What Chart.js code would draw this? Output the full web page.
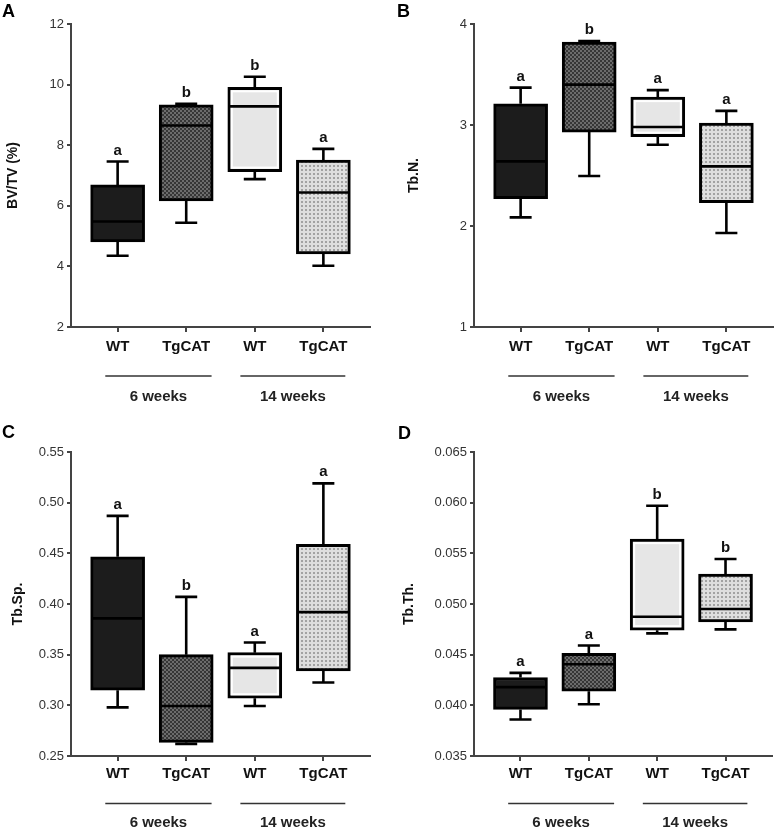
<!DOCTYPE html>
<html><head><meta charset="utf-8">
<script src="https://cdn.jsdelivr.net/npm/chart.js@4.4.0/dist/chart.umd.min.js"></script>
<style>
html,body{margin:0;padding:0;background:#fff;}
#wrap{position:relative;width:777px;height:831px;overflow:hidden;background:#fff;}
.pn{position:absolute;}
.pn canvas{display:block;}
.lt{position:absolute;font:bold 18px "Liberation Sans",Arial,sans-serif;color:#000;line-height:18px;}
</style></head><body>
<div id="wrap">
  <div class="pn" style="left:0;top:0"><canvas id="cA" width="388" height="415"></canvas></div>
  <div class="pn" style="left:388px;top:0"><canvas id="cB" width="389" height="415"></canvas></div>
  <div class="pn" style="left:0;top:415px"><canvas id="cC" width="388" height="416"></canvas></div>
  <div class="pn" style="left:388px;top:415px"><canvas id="cD" width="389" height="416"></canvas></div>
  <div class="lt" style="left:2px;top:2px">A</div>
  <div class="lt" style="left:397px;top:2px">B</div>
  <div class="lt" style="left:2px;top:423px">C</div>
  <div class="lt" style="left:398px;top:424px">D</div>
</div>
<script>
// ---------- data ----------
const categories = ['WT', 'TgCAT', 'WT', 'TgCAT'];
const groups = ['6 weeks', '14 weeks'];

// Panel A: BV/TV (%)
const bvtvLow    = [4.35, 5.44, 6.88, 4.02];
const bvtvQ1     = [4.81, 6.16, 7.13, 4.41];
const bvtvMedian = [5.48, 8.65, 9.28, 6.44];
const bvtvQ3     = [6.69, 9.33, 9.91, 7.51];
const bvtvHigh   = [7.46, 9.37, 10.26, 7.88];
const bvtvLetters = ['a', 'b', 'b', 'a'];
const bvtvTicks = [2, 4, 6, 8, 10, 12];

// Panel B: Tb.N.
const tbnLow    = [2.085, 2.495, 2.805, 1.93];
const tbnQ1     = [2.27, 2.93, 2.885, 2.23];
const tbnMedian = [2.64, 3.40, 2.98, 2.59];
const tbnQ3     = [3.21, 3.82, 3.276, 3.02];
const tbnHigh   = [3.37, 3.83, 3.345, 3.14];
const tbnLetters = ['a', 'b', 'a', 'a'];
const tbnTicks = [1, 2, 3, 4];

// Panel C: Tb.Sp.
const tbspLow    = [0.298, 0.262, 0.2994, 0.3225];
const tbspQ1     = [0.315, 0.2635, 0.307, 0.334];
const tbspMedian = [0.3858, 0.2994, 0.337, 0.392];
const tbspQ3     = [0.4466, 0.350, 0.352, 0.459];
const tbspHigh   = [0.487, 0.407, 0.362, 0.519];
const tbspLetters = ['a', 'b', 'a', 'a'];
const tbspTicks = [0.25, 0.30, 0.35, 0.40, 0.45, 0.50, 0.55];

// Panel D: Tb.Th.
const tbthLow    = [0.0386, 0.0401, 0.0471, 0.0475];
const tbthQ1     = [0.0396, 0.0414, 0.04742, 0.04824];
const tbthMedian = [0.0418, 0.04406, 0.04874, 0.0495];
const tbthQ3     = [0.04275, 0.04512, 0.0564, 0.05295];
const tbthHigh   = [0.0432, 0.0459, 0.0597, 0.05444];
const tbthLetters = ['a', 'a', 'b', 'b'];
const tbthTicks = [0.035, 0.040, 0.045, 0.050, 0.055, 0.060, 0.065];

// ---------- styling ----------
const FONT = '"Liberation Sans", Arial, Helvetica, sans-serif';
Chart.defaults.font.family = FONT;
Chart.defaults.color = '#222';

function makePattern(kind) {
  const c = document.createElement('canvas');
  c.width = 4; c.height = 4;
  const g = c.getContext('2d');
  if (kind === 'check') {
    g.fillStyle = '#6c6c6c'; g.fillRect(0, 0, 4, 4);
    g.fillStyle = '#363636'; g.fillRect(0, 0, 2, 2); g.fillRect(2, 2, 2, 2);
  } else {
    g.fillStyle = '#dedede'; g.fillRect(0, 0, 4, 4);
    g.fillStyle = '#a2a2a2'; g.fillRect(1, 1, 2, 2);
  }
  return g.createPattern(c, 'repeat');
}
const boxFills = ['#1c1c1c', makePattern('check'), '#e6e6e6', makePattern('dots')];
const innerWhite = [false, false, true, false];
const groupSpans = [[0.82, 2.37], [2.79, 4.32]];

const boxPlugin = {
  id: 'boxExtras',
  afterDatasetsDraw(chart) {
    const o = chart.options.plugins.boxExtras;
    const { ctx } = chart;
    const x = chart.scales.x, y = chart.scales.y;
    const half = o.boxWidth / 2;
    ctx.save();
    ctx.lineCap = 'butt';
    for (let i = 0; i < o.median.length; i++) {
      const cx = x.getPixelForValue(i + 1);
      const yLo = y.getPixelForValue(o.low[i]);
      const yQ1 = y.getPixelForValue(o.q1[i]);
      const yMed = y.getPixelForValue(o.median[i]);
      const yQ3 = y.getPixelForValue(o.q3[i]);
      const yHi = y.getPixelForValue(o.high[i]);
      if (innerWhite[i]) {
        ctx.strokeStyle = '#fff'; ctx.lineWidth = 2;
        ctx.strokeRect(cx - half + 4, yQ3 + 4, o.boxWidth - 8, (yQ1 - yQ3) - 8);
      }
      ctx.strokeStyle = '#000'; ctx.lineWidth = 2.6;
      ctx.beginPath();
      ctx.moveTo(cx, yQ3); ctx.lineTo(cx, yHi);
      ctx.moveTo(cx - o.cap / 2, yHi); ctx.lineTo(cx + o.cap / 2, yHi);
      ctx.moveTo(cx, yQ1); ctx.lineTo(cx, yLo);
      ctx.moveTo(cx - o.cap / 2, yLo); ctx.lineTo(cx + o.cap / 2, yLo);
      ctx.moveTo(cx - half + 2, yMed); ctx.lineTo(cx + half - 2, yMed);
      ctx.stroke();
      ctx.fillStyle = '#111';
      ctx.font = 'bold 15px ' + FONT;
      ctx.textAlign = 'center';
      ctx.textBaseline = 'alphabetic';
      ctx.fillText(o.letters[i], cx, yHi - 7);
    }
    ctx.restore();
  },
  afterDraw(chart) {
    const o = chart.options.plugins.boxExtras;
    const { ctx } = chart;
    const x = chart.scales.x;
    const base = chart.chartArea.bottom;
    ctx.save();
    ctx.strokeStyle = '#333'; ctx.lineWidth = 1.6;
    ctx.fillStyle = '#222';
    ctx.font = 'bold 15px ' + FONT;
    ctx.textAlign = 'center'; ctx.textBaseline = 'middle';
    groups.forEach((g, k) => {
      const x0 = x.getPixelForValue(groupSpans[k][0]);
      const x1 = x.getPixelForValue(groupSpans[k][1]);
      ctx.beginPath();
      ctx.moveTo(x0, base + o.lineOff); ctx.lineTo(x1, base + o.lineOff);
      ctx.stroke();
      ctx.fillText(g, (x0 + x1) / 2, base + o.textOff);
    });
    ctx.restore();
  }
};

function makePanel(id, p) {
  const data = categories.map((c, i) => ({ x: i + 1, y: [p.q1[i], p.q3[i]] }));
  new Chart(document.getElementById(id), {
    type: 'bar',
    data: {
      datasets: [{
        data,
        backgroundColor: boxFills,
        borderColor: '#000',
        borderWidth: 3,
        borderSkipped: false,
        barThickness: 54
      }]
    },
    options: {
      responsive: false,
      animation: false,
      layout: { padding: { top: p.padTop, right: p.padRight, left: 0, bottom: 0 } },
      plugins: {
        legend: { display: false },
        tooltip: { enabled: false },
        boxExtras: {
          low: p.low, q1: p.q1, median: p.median, q3: p.q3, high: p.high,
          letters: p.letters, boxWidth: 54, cap: 22,
          lineOff: p.lineOff, textOff: p.textOff
        }
      },
      scales: {
        x: {
          type: 'linear', min: 0.32, max: 4.68, offset: false,
          afterBuildTicks: (s) => { s.ticks = categories.map((c, i) => ({ value: i + 1 })); },
          afterFit: (s) => { s.height = p.xHeight; },
          ticks: {
            callback: (v, i) => categories[i],
            font: { size: 15, weight: 'bold' }, color: '#111', padding: p.xTickPad,
            maxRotation: 0, autoSkip: false
          },
          grid: { display: true, drawOnChartArea: false, drawTicks: true, tickLength: 5, color: '#444', lineWidth: 2, offset: false },
          border: { display: true, color: '#444', width: 2 }
        },
        y: {
          type: 'linear', min: p.ticks[0], max: p.ticks[p.ticks.length - 1],
          afterBuildTicks: (s) => { s.ticks = p.ticks.map(v => ({ value: v })); },
          afterFit: (s) => { s.width = p.yWidth; },
          ticks: {
            callback: (v, i) => p.ticks[i].toFixed(p.dec),
            font: { size: 13 }, color: '#333', padding: 3
          },
          grid: { display: true, drawOnChartArea: false, drawTicks: true, tickLength: 4, color: '#444', lineWidth: 2 },
          border: { display: true, color: '#444', width: 2 },
          title: { display: true, text: p.title, font: { size: 14, weight: 'bold' }, color: '#111', padding: { top: p.titlePad, bottom: 0 } }
        }
      }
    },
    plugins: [boxPlugin]
  });
}

makePanel('cA', { low: bvtvLow, q1: bvtvQ1, median: bvtvMedian, q3: bvtvQ3, high: bvtvHigh, letters: bvtvLetters,
  ticks: bvtvTicks, dec: 0, title: 'BV/TV (%)', padTop: 24, padRight: 18, yWidth: 71, xHeight: 88,
  titlePad: 5, xTickPad: 6, lineOff: 49, textOff: 70 });
makePanel('cB', { low: tbnLow, q1: tbnQ1, median: tbnMedian, q3: tbnQ3, high: tbnHigh, letters: tbnLetters,
  ticks: tbnTicks, dec: 0, title: 'Tb.N.', padTop: 24, padRight: 4, yWidth: 86, xHeight: 88,
  titlePad: 18, xTickPad: 6, lineOff: 49, textOff: 70 });
makePanel('cC', { low: tbspLow, q1: tbspQ1, median: tbspMedian, q3: tbspQ3, high: tbspHigh, letters: tbspLetters,
  ticks: tbspTicks, dec: 2, title: 'Tb.Sp.', padTop: 37, padRight: 18, yWidth: 71, xHeight: 75,
  titlePad: 10, xTickPad: 4, lineOff: 47.5, textOff: 67 });
makePanel('cD', { low: tbthLow, q1: tbthQ1, median: tbthMedian, q3: tbthQ3, high: tbthHigh, letters: tbthLetters,
  ticks: tbthTicks, dec: 3, title: 'Tb.Th.', padTop: 37, padRight: 5, yWidth: 86, xHeight: 75,
  titlePad: 13, xTickPad: 4, lineOff: 47.5, textOff: 67 });
</script>
</body></html>
